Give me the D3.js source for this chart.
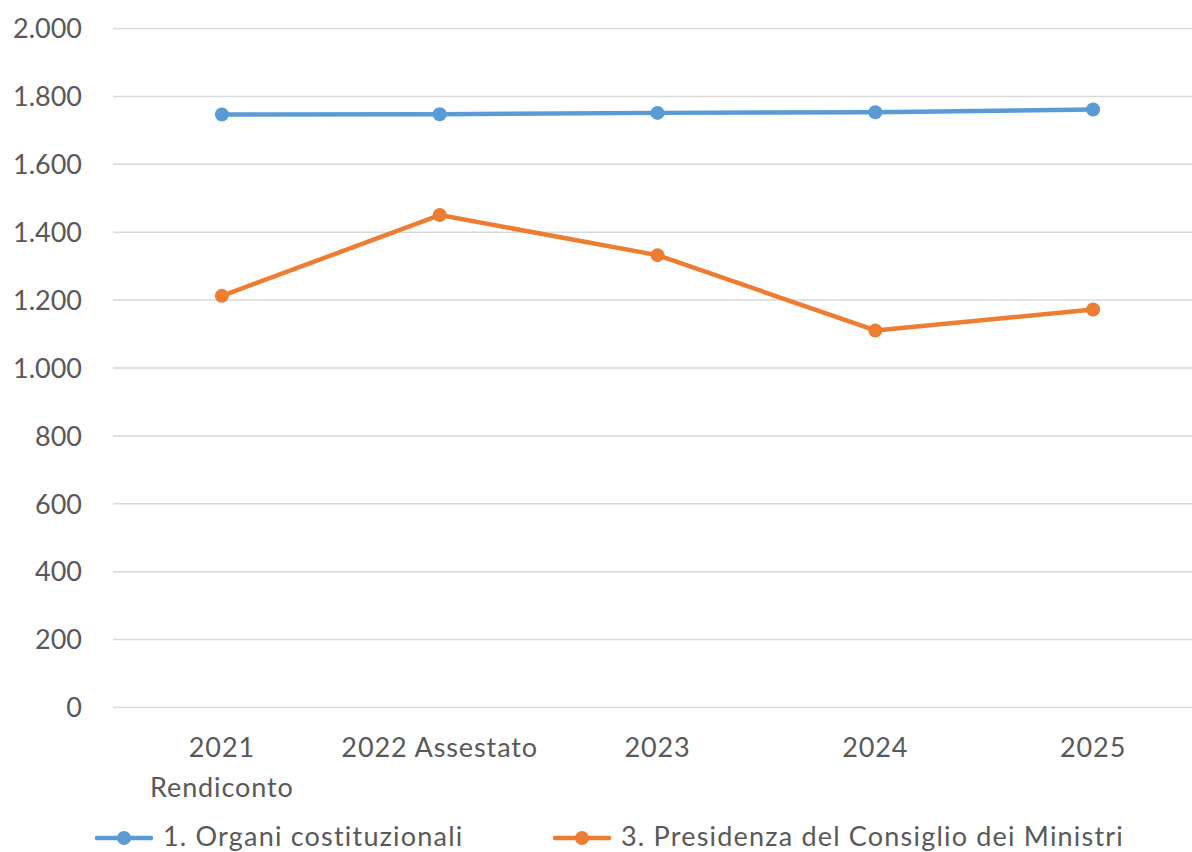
<!DOCTYPE html>
<html><head><meta charset="utf-8">
<script src="https://cdn.jsdelivr.net/npm/d3@7"></script>
<style>
html,body{margin:0;padding:0;background:#fff;}
svg text{font-family:Lato,"Open Sans",sans-serif;fill:#595959;}
</style></head>
<body><svg id="c" width="1192" height="852"></svg>
<script>
const categories = [["2021","Rendiconto"],["2022 Assestato"],["2023"],["2024"],["2025"]];
const seriesNames = ["1. Organi costituzionali","3. Presidenza del Consiglio dei Ministri"];
const organi = [1745, 1746, 1750, 1752, 1760];
const presidenza = [1211, 1449, 1331, 1109, 1171];
const yTicks = [0,200,400,600,800,1000,1200,1400,1600,1800,2000];
const colors = ["#5B9BD5","#ED7D31"];

const svg = d3.select("#c");
const pLeft = 113, pRight = 1202, pTop = 28, pBottom = 707;
const x = d3.scaleBand().domain(d3.range(categories.length)).range([pLeft,pRight]);
const y = d3.scaleLinear().domain([0,2000]).range([pBottom,pTop]);
const fmt = d3.formatLocale({decimal:",",thousands:".",grouping:[3],currency:["€",""]}).format(",d");

// gridlines
const yAxis = d3.axisLeft(y).tickValues(yTicks).tickSize(-(pRight-pLeft)).tickFormat(fmt).tickPadding(31);
const ga = svg.append("g").attr("transform",`translate(${pLeft},0)`).call(yAxis);
ga.select(".domain").remove();
ga.selectAll(".tick line").attr("stroke","#D9D9D9").attr("stroke-width",1.5);
ga.selectAll(".tick text").style("font-size","27px").attr("fill","#595959").attr("dy","0.36em");

// x labels
const xa = svg.append("g");
categories.forEach((lines,i)=>{
  const t = xa.append("text").attr("x",x(i)+x.bandwidth()/2).attr("y",757)
    .attr("text-anchor","middle").style("font-size","27px").style("letter-spacing","0.9px");
  lines.forEach((l,j)=>t.append("tspan").attr("x",x(i)+x.bandwidth()/2).attr("dy",j===0?0:40).text(l));
});

const cx = i => x(i)+x.bandwidth()/2;
const line = d3.line().x((d,i)=>cx(i)).y(d=>y(d));
[organi,presidenza].forEach((data,k)=>{
  svg.append("path").datum(data).attr("d",line).attr("fill","none")
    .attr("stroke",colors[k]).attr("stroke-width",4.5).attr("stroke-linejoin","round");
  svg.selectAll(null).data(data).enter().append("circle")
    .attr("cx",(d,i)=>cx(i)).attr("cy",d=>y(d)).attr("r",7).attr("fill",colors[k]);
});

// legend
const legX = [97, 555];
seriesNames.forEach((n,k)=>{
  const g = svg.append("g").attr("transform",`translate(${legX[k]},838)`);
  g.append("line").attr("x1",0).attr("x2",54).attr("y1",0).attr("y2",0)
    .attr("stroke",colors[k]).attr("stroke-width",4.5).attr("stroke-linecap","round");
  g.append("circle").attr("cx",27).attr("cy",0).attr("r",7).attr("fill",colors[k]);
  g.append("text").attr("x",66).attr("y",8).style("font-size","27px").style("letter-spacing","1.2px").text(n);
});
</script></body></html>
